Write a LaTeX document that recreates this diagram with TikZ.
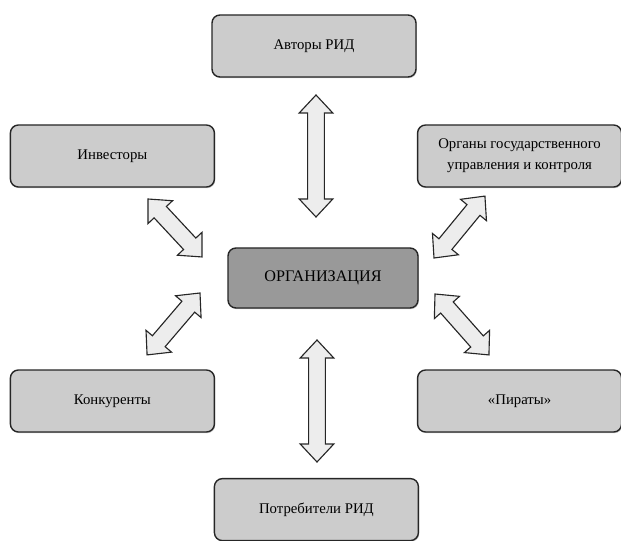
\documentclass[tikz,border=0pt]{standalone}
\usepackage{fontspec}
\setmainfont{Liberation Serif}
\usetikzlibrary{calc, shadows}

\definecolor{boxgray}{gray}{0.80}
\definecolor{coregray}{gray}{0.60}
\definecolor{arrowgray}{gray}{0.93}

\tikzset{
    box/.style = {draw = black!85, line width = 1pt, rounded corners = 0.2cm, fill = boxgray,
        minimum width = 5.1cm, minimum height = 1.55cm, align = center,
        font = \fontsize{10.5}{15}\selectfont,
        drop shadow = {shadow xshift = 0.6pt, shadow yshift = -0.8pt, fill = black!45}},
    core/.style = {box, fill = coregray, minimum width = 4.75cm, minimum height = 1.5cm,
        font = \fontsize{11.5}{14}\selectfont},
    arrowbody/.style = {draw = black!85, line width = 0.8pt, fill = arrowgray, line join = miter},
    arrowshade/.style = {fill = gray!45, opacity = 0.6}
}

\newcommand\arrhead{0.45cm}
\newcommand\arrwing{0.42cm}
\newcommand\arrshaft{0.21cm}
\newcommand\arrpath{(0,0) -- (\arrhead,\arrwing) -- (\arrhead,\arrshaft)
    -- ({\arrlen pt-\arrhead},\arrshaft) -- ({\arrlen pt-\arrhead},\arrwing) -- ({\arrlen pt},0)
    -- ({\arrlen pt-\arrhead},-\arrwing) -- ({\arrlen pt-\arrhead},-\arrshaft)
    -- (\arrhead,-\arrshaft) -- (\arrhead,-\arrwing) -- cycle}
\newcommand\blockarrow[2]{%
    \pgfpointdiff{\pgfpointanchor{#1}{center}}{\pgfpointanchor{#2}{center}}%
    \pgfgetlastxy{\arrdx}{\arrdy}%
    \pgfmathsetmacro\arrang{atan2(\arrdy,\arrdx)}%
    \pgfmathsetmacro\arrlen{veclen(\arrdx,\arrdy)}%
    \fill[arrowshade, xshift = 2.5pt, yshift = -0.5pt, shift = {(#1)}, rotate = \arrang] \arrpath;
    \draw[arrowbody, shift = {(#1)}, rotate = \arrang] \arrpath;}

\begin{document}
\begin{tikzpicture}
    \useasboundingbox (0,0) rectangle (15.525,13.5);
    % blocks
    \node[box] (avt) at (7.85,12.35) {Авторы РИД};
    \node[box] (inv) at (2.81,9.6) {Инвесторы};
    \node[box] (gos) at (12.99,9.6) {Органы государственного\\управления и контроля};
    \node[core] (org) at (8.075,6.55) {ОРГАНИЗАЦИЯ};
    \node[box] (kon) at (2.81,3.475) {Конкуренты};
    \node[box] (pir) at (12.99,3.475) {«Пираты»};
    \node[box] (pot) at (7.91,0.76) {Потребители РИД};
    % arrow tips
    \coordinate (a1) at (7.9,11.125);
    \coordinate (a2) at (7.9,8.075);
    \coordinate (b1) at (7.925,5.0);
    \coordinate (b2) at (7.925,1.95);
    \coordinate (c1) at (3.7,8.525);
    \coordinate (c2) at (5.05,7.075);
    \coordinate (d1) at (10.85,7.05);
    \coordinate (d2) at (12.125,8.6);
    \coordinate (e1) at (5.0,6.175);
    \coordinate (e2) at (3.675,4.625);
    \coordinate (f1) at (10.875,6.15);
    \coordinate (f2) at (12.225,4.625);
    % links
    \blockarrow{a1}{a2}
    \blockarrow{b1}{b2}
    \blockarrow{c1}{c2}
    \blockarrow{d1}{d2}
    \blockarrow{e1}{e2}
    \blockarrow{f1}{f2}
\end{tikzpicture}
\end{document}
